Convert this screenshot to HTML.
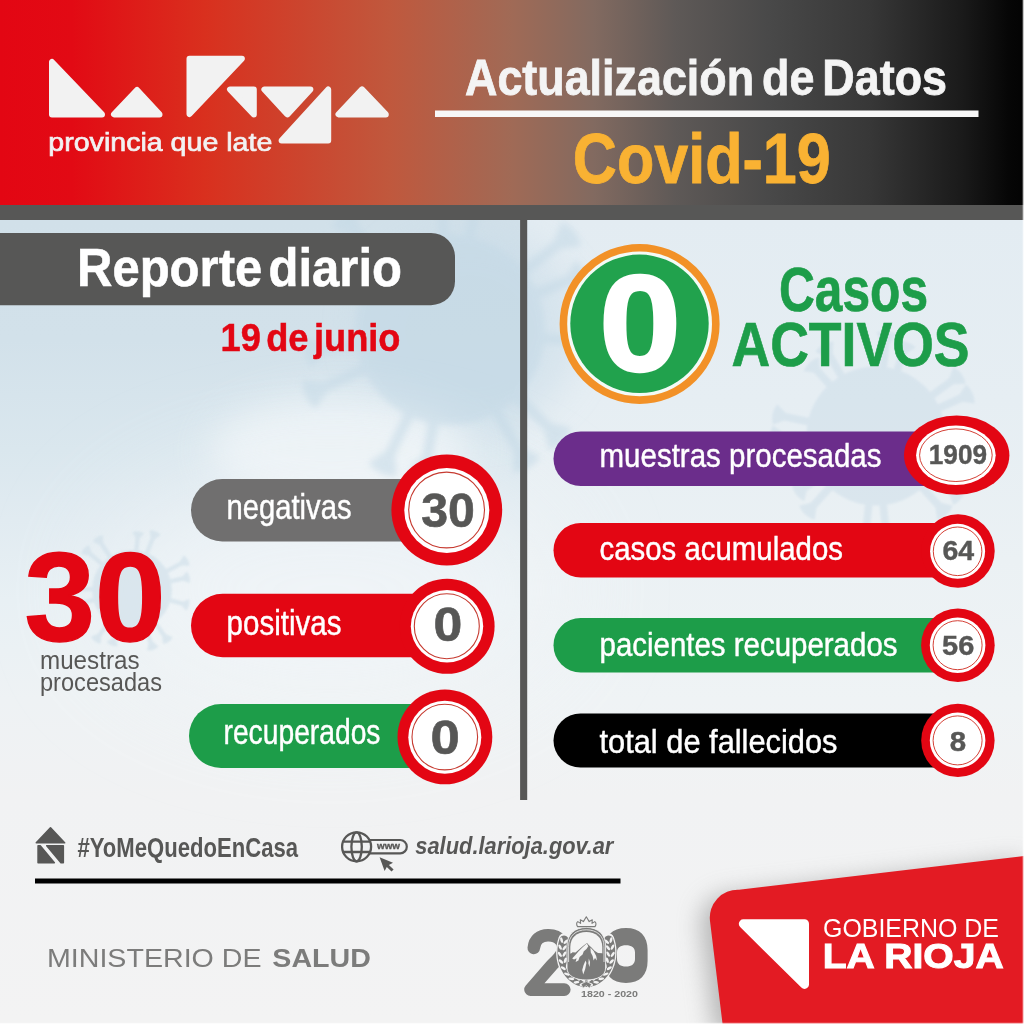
<!DOCTYPE html>
<html lang="es">
<head>
<meta charset="utf-8">
<title>Actualización de Datos Covid-19 - La Rioja</title>
<style>
html,body{margin:0;padding:0;background:#f3f3f3;}
body{width:1024px;height:1024px;overflow:hidden;position:relative;font-family:"Liberation Sans",sans-serif;}
svg{position:absolute;left:0;top:0;display:block;}
text{font-family:"Liberation Sans",sans-serif;}
.b{font-weight:bold;}
.w{fill:#f4f4f4;}
.g{fill:#575756;}
</style>
</head>
<body>
<svg width="1024" height="1024" viewBox="0 0 1024 1024">
<defs>
  <linearGradient id="hdr" x1="0" y1="0" x2="1" y2="0">
    <stop offset="0" stop-color="#e30613"/>
    <stop offset="0.07" stop-color="#e20a14"/>
    <stop offset="0.2" stop-color="#d9301e"/>
    <stop offset="0.38" stop-color="#c0583d"/>
    <stop offset="0.5" stop-color="#a06a56"/>
    <stop offset="0.58" stop-color="#826a60"/>
    <stop offset="0.66" stop-color="#5e5957"/>
    <stop offset="0.75" stop-color="#494949"/>
    <stop offset="0.85" stop-color="#373737"/>
    <stop offset="0.94" stop-color="#1a1a1a"/>
    <stop offset="0.985" stop-color="#060606"/>
    <stop offset="1" stop-color="#030303"/>
  </linearGradient>

  <linearGradient id="bg" x1="0" y1="0" x2="0" y2="1">
    <stop offset="0.2148" stop-color="#d1e0e9"/>
    <stop offset="0.3320" stop-color="#d2e1ea"/>
    <stop offset="0.4395" stop-color="#dae7ee"/>
    <stop offset="0.5078" stop-color="#e1ebf1"/>
    <stop offset="0.5859" stop-color="#e8f0f4"/>
    <stop offset="0.6836" stop-color="#eef2f4"/>
    <stop offset="0.7812" stop-color="#f1f2f3"/>
    <stop offset="1.0000" stop-color="#f3f3f3"/>
  </linearGradient>
  <linearGradient id="bgR" x1="0" y1="0" x2="0" y2="1">
    <stop offset="0.2148" stop-color="#e3ecf2"/>
    <stop offset="0.3906" stop-color="#e6eef3"/>
    <stop offset="0.5469" stop-color="#ebf1f4"/>
    <stop offset="0.6836" stop-color="#eff3f5"/>
    <stop offset="0.7812" stop-color="#f1f2f3"/>
    <stop offset="1.0000" stop-color="#f3f3f3"/>
  </linearGradient>
  <filter id="blur60" x="-50%" y="-50%" width="200%" height="200%"><feGaussianBlur stdDeviation="55"/></filter>
  <filter id="blur20" x="-50%" y="-50%" width="200%" height="200%"><feGaussianBlur stdDeviation="18"/></filter>
  <filter id="blur2" x="-30%" y="-30%" width="160%" height="160%"><feGaussianBlur stdDeviation="1.6"/></filter>
  <filter id="blur1" x="-30%" y="-30%" width="160%" height="160%"><feGaussianBlur stdDeviation="0.9"/></filter>
  <filter id="blur6" x="-30%" y="-30%" width="160%" height="160%"><feGaussianBlur stdDeviation="6"/></filter>
  <filter id="blur3" x="-30%" y="-30%" width="160%" height="160%"><feGaussianBlur stdDeviation="3"/></filter>
  <filter id="sh" x="-30%" y="-30%" width="160%" height="160%"><feGaussianBlur stdDeviation="12"/></filter>
</defs>

<!-- background -->
<rect x="0" y="0" width="1024" height="1024" fill="url(#bg)"/>
<rect x="523" y="0" width="501" height="1024" fill="url(#bgR)"/>
<g id="viruses">
<ellipse cx="470" cy="330" rx="110" ry="100" fill="#c9dce8" opacity="0.55" filter="url(#blur20)"/>
<ellipse cx="340" cy="450" rx="130" ry="55" fill="#f3f7f9" opacity="0.7" filter="url(#blur20)"/>
<ellipse cx="330" cy="590" rx="230" ry="120" fill="#f4f7f9" opacity="0.6" filter="url(#blur60)"/>
<g transform="translate(450 330)" fill="#c4d9e6" opacity="0.55" filter="url(#blur3)"><circle cx="0" cy="0" r="95"/><path transform="rotate(5.0)" d="M93 -5.2 L128.6 -5.2 L143.0 -15.7 Q150.8 0 143.0 15.7 L128.6 5.2 L93 5.2 Z"/><path transform="rotate(44.7)" d="M93 -5.2 L137.0 -5.2 L155.0 -15.7 Q162.8 0 155.0 15.7 L137.0 5.2 L93 5.2 Z"/><path transform="rotate(60.4)" d="M93 -5.2 L137.0 -5.2 L155.0 -15.7 Q162.8 0 155.0 15.7 L137.0 5.2 L93 5.2 Z"/><path transform="rotate(100.1)" d="M93 -5.2 L128.6 -5.2 L143.0 -15.7 Q150.8 0 143.0 15.7 L128.6 5.2 L93 5.2 Z"/><path transform="rotate(115.8)" d="M93 -5.2 L137.0 -5.2 L155.0 -15.7 Q162.8 0 155.0 15.7 L137.0 5.2 L93 5.2 Z"/><path transform="rotate(155.5)" d="M93 -5.2 L137.0 -5.2 L155.0 -15.7 Q162.8 0 155.0 15.7 L137.0 5.2 L93 5.2 Z"/><path transform="rotate(171.2)" d="M93 -5.2 L128.6 -5.2 L143.0 -15.7 Q150.8 0 143.0 15.7 L128.6 5.2 L93 5.2 Z"/><path transform="rotate(210.8)" d="M93 -5.2 L137.0 -5.2 L155.0 -15.7 Q162.8 0 155.0 15.7 L137.0 5.2 L93 5.2 Z"/><path transform="rotate(226.5)" d="M93 -5.2 L137.0 -5.2 L155.0 -15.7 Q162.8 0 155.0 15.7 L137.0 5.2 L93 5.2 Z"/><path transform="rotate(266.2)" d="M93 -5.2 L128.6 -5.2 L143.0 -15.7 Q150.8 0 143.0 15.7 L128.6 5.2 L93 5.2 Z"/><path transform="rotate(281.9)" d="M93 -5.2 L137.0 -5.2 L155.0 -15.7 Q162.8 0 155.0 15.7 L137.0 5.2 L93 5.2 Z"/><path transform="rotate(321.6)" d="M93 -5.2 L137.0 -5.2 L155.0 -15.7 Q162.8 0 155.0 15.7 L137.0 5.2 L93 5.2 Z"/><path transform="rotate(337.3)" d="M93 -5.2 L128.6 -5.2 L143.0 -15.7 Q150.8 0 143.0 15.7 L128.6 5.2 L93 5.2 Z"/></g>
<g transform="translate(876 436) scale(1.2)" fill="#c6d9e6" opacity="0.42" filter="url(#blur1)"><circle cx="0" cy="0" r="58"/><path transform="rotate(0.0)" d="M56 -3.2 L73.7 -3.2 L80.4 -8.7 Q84.8 0 80.4 8.7 L73.7 3.2 L56 3.2 Z"/><path transform="rotate(36.0)" d="M56 -3.2 L77.6 -3.2 L86.0 -8.7 Q90.3 0 86.0 8.7 L77.6 3.2 L56 3.2 Z"/><path transform="rotate(48.0)" d="M56 -3.2 L77.6 -3.2 L86.0 -8.7 Q90.3 0 86.0 8.7 L77.6 3.2 L56 3.2 Z"/><path transform="rotate(84.0)" d="M56 -3.2 L73.7 -3.2 L80.4 -8.7 Q84.8 0 80.4 8.7 L73.7 3.2 L56 3.2 Z"/><path transform="rotate(96.0)" d="M56 -3.2 L77.6 -3.2 L86.0 -8.7 Q90.3 0 86.0 8.7 L77.6 3.2 L56 3.2 Z"/><path transform="rotate(132.0)" d="M56 -3.2 L77.6 -3.2 L86.0 -8.7 Q90.3 0 86.0 8.7 L77.6 3.2 L56 3.2 Z"/><path transform="rotate(144.0)" d="M56 -3.2 L73.7 -3.2 L80.4 -8.7 Q84.8 0 80.4 8.7 L73.7 3.2 L56 3.2 Z"/><path transform="rotate(180.0)" d="M56 -3.2 L77.6 -3.2 L86.0 -8.7 Q90.3 0 86.0 8.7 L77.6 3.2 L56 3.2 Z"/><path transform="rotate(192.0)" d="M56 -3.2 L77.6 -3.2 L86.0 -8.7 Q90.3 0 86.0 8.7 L77.6 3.2 L56 3.2 Z"/><path transform="rotate(228.0)" d="M56 -3.2 L73.7 -3.2 L80.4 -8.7 Q84.8 0 80.4 8.7 L73.7 3.2 L56 3.2 Z"/><path transform="rotate(240.0)" d="M56 -3.2 L77.6 -3.2 L86.0 -8.7 Q90.3 0 86.0 8.7 L77.6 3.2 L56 3.2 Z"/><path transform="rotate(276.0)" d="M56 -3.2 L77.6 -3.2 L86.0 -8.7 Q90.3 0 86.0 8.7 L77.6 3.2 L56 3.2 Z"/><path transform="rotate(288.0)" d="M56 -3.2 L73.7 -3.2 L80.4 -8.7 Q84.8 0 80.4 8.7 L73.7 3.2 L56 3.2 Z"/><path transform="rotate(324.0)" d="M56 -3.2 L77.6 -3.2 L86.0 -8.7 Q90.3 0 86.0 8.7 L77.6 3.2 L56 3.2 Z"/><path transform="rotate(336.0)" d="M56 -3.2 L77.6 -3.2 L86.0 -8.7 Q90.3 0 86.0 8.7 L77.6 3.2 L56 3.2 Z"/></g>
<g transform="translate(132 590)" fill="#cfdfe9" opacity="0.6" filter="url(#blur1)"><circle cx="0" cy="0" r="40"/><path transform="rotate(15.0)" d="M38 -2.2 L52.3 -2.2 L57.6 -6.0 Q60.6 0 57.6 6.0 L52.3 2.2 L38 2.2 Z"/><path transform="rotate(54.7)" d="M38 -2.2 L55.4 -2.2 L62.0 -6.0 Q65.0 0 62.0 6.0 L55.4 2.2 L38 2.2 Z"/><path transform="rotate(70.4)" d="M38 -2.2 L55.4 -2.2 L62.0 -6.0 Q65.0 0 62.0 6.0 L55.4 2.2 L38 2.2 Z"/><path transform="rotate(110.1)" d="M38 -2.2 L52.3 -2.2 L57.6 -6.0 Q60.6 0 57.6 6.0 L52.3 2.2 L38 2.2 Z"/><path transform="rotate(125.8)" d="M38 -2.2 L55.4 -2.2 L62.0 -6.0 Q65.0 0 62.0 6.0 L55.4 2.2 L38 2.2 Z"/><path transform="rotate(165.5)" d="M38 -2.2 L55.4 -2.2 L62.0 -6.0 Q65.0 0 62.0 6.0 L55.4 2.2 L38 2.2 Z"/><path transform="rotate(181.2)" d="M38 -2.2 L52.3 -2.2 L57.6 -6.0 Q60.6 0 57.6 6.0 L52.3 2.2 L38 2.2 Z"/><path transform="rotate(220.8)" d="M38 -2.2 L55.4 -2.2 L62.0 -6.0 Q65.0 0 62.0 6.0 L55.4 2.2 L38 2.2 Z"/><path transform="rotate(236.5)" d="M38 -2.2 L55.4 -2.2 L62.0 -6.0 Q65.0 0 62.0 6.0 L55.4 2.2 L38 2.2 Z"/><path transform="rotate(276.2)" d="M38 -2.2 L52.3 -2.2 L57.6 -6.0 Q60.6 0 57.6 6.0 L52.3 2.2 L38 2.2 Z"/><path transform="rotate(291.9)" d="M38 -2.2 L55.4 -2.2 L62.0 -6.0 Q65.0 0 62.0 6.0 L55.4 2.2 L38 2.2 Z"/><path transform="rotate(331.6)" d="M38 -2.2 L55.4 -2.2 L62.0 -6.0 Q65.0 0 62.0 6.0 L55.4 2.2 L38 2.2 Z"/><path transform="rotate(347.3)" d="M38 -2.2 L52.3 -2.2 L57.6 -6.0 Q60.6 0 57.6 6.0 L52.3 2.2 L38 2.2 Z"/></g>
</g>

<!-- header -->
<rect x="0" y="0" width="1024" height="206" fill="url(#hdr)"/>
<rect x="0" y="205" width="1024" height="15" fill="#575756"/>
<rect x="520.1" y="219" width="7.1" height="581" fill="#575756"/>


<!-- logo La Rioja -->
<g id="logo" fill="#f2f2f2" stroke="#f2f2f2" stroke-width="6" stroke-linejoin="round">
  <path d="M52 62 L52 114.4 L102 114.4 Z"/>
  <path d="M137 90 L114 114.4 L159.5 114.4 Z"/>
  <path d="M189.5 58.7 L241.9 58.7 L189.5 114 Z"/>
  <path d="M230 89.4 L253.8 89.4 L253.8 114.4 Z"/>
  <path d="M264.4 89.4 L310.4 89.4 L287.4 114.4 Z"/>
  <path d="M328.2 89.4 L328.2 140.5 L281.6 140.5 Z"/>
  <path d="M362 89.4 L338.5 114.4 L385.8 114.4 Z"/>
</g>
<text x="48.3" y="150.5" font-size="26.5" textLength="224" lengthAdjust="spacingAndGlyphs" fill="#f2f2f2" stroke="#f2f2f2" stroke-width="0.7">provincia que late</text>

<!-- title -->
<text x="465" y="94.5" font-size="49.8" class="b" word-spacing="-5" textLength="482" stroke="#f4f4f4" stroke-width="0.8" lengthAdjust="spacingAndGlyphs" fill="#f4f4f4">Actualización de Datos</text>
<rect x="435" y="110.5" width="543.5" height="6.5" fill="#f7f7f7"/>
<text x="572.8" y="183.2" font-size="70.8" class="b" textLength="258" lengthAdjust="spacingAndGlyphs" fill="#f9b233" stroke="#f9b233" stroke-width="0.8">Covid-19</text>

<!-- Reporte diario -->
<path d="M0 232.9 H431 A24 24 0 0 1 455 256.9 V281.2 A24 24 0 0 1 431 305.2 H0 Z" fill="#575756"/>
<text x="77" y="285.6" font-size="53.7" class="b" word-spacing="-8" textLength="325" stroke="#fff" stroke-width="0.6" lengthAdjust="spacingAndGlyphs" fill="#ffffff">Reporte diario</text>
<text x="220.5" y="351" font-size="39" class="b" word-spacing="-5" textLength="180" lengthAdjust="spacingAndGlyphs" fill="#e30613" stroke="#e30613" stroke-width="0.5">19 de junio</text>

<!-- Casos activos -->
<circle cx="639.6" cy="323.9" r="76.2" fill="#f3faf6" stroke="#f29127" stroke-width="7.6"/>
<circle cx="639.5" cy="323.8" r="69.2" fill="#21a24d"/>
<text x="639.9" y="371.4" font-size="136.5" class="b" text-anchor="middle" textLength="82" stroke="#fff" stroke-width="2.4" lengthAdjust="spacingAndGlyphs" fill="#ffffff">0</text>
<text x="779" y="311" font-size="62.4" class="b" textLength="149" lengthAdjust="spacingAndGlyphs" fill="#1d9d49" stroke="#1d9d49" stroke-width="0.7">Casos</text>
<text x="731.5" y="366" font-size="62.4" class="b" textLength="238" lengthAdjust="spacingAndGlyphs" fill="#1d9d49" stroke="#1d9d49" stroke-width="0.7">ACTIVOS</text>

<!-- left pills -->
<rect x="191" y="479" width="260" height="62.5" rx="31.25" fill="#706f6f"/>
<rect x="191" y="593.8" width="260" height="63.4" rx="31.7" fill="#e30613"/>
<rect x="189" y="704" width="260" height="64" rx="32" fill="#1d9d49"/>
<g>
  <circle cx="446.8" cy="510" r="55.4" fill="#e30613"/>
  <circle cx="446.8" cy="510.4" r="42.5" fill="#ffffff"/>
  <circle cx="446.6" cy="510" r="37.9" fill="none" stroke="#c63a30" stroke-width="1.1"/>
  <text x="421.2" y="526.9" font-size="47.6" class="b g" textLength="53.7" lengthAdjust="spacingAndGlyphs" stroke="#575756" stroke-width="0.6">30</text>
  <circle cx="447.1" cy="626.25" r="47.5" fill="#e30613"/>
  <circle cx="447" cy="626.25" r="36.2" fill="#ffffff"/>
  <circle cx="446.8" cy="626.2" r="32.5" fill="none" stroke="#c63a30" stroke-width="1.1"/>
  <text x="433.4" y="641.2" font-size="47.6" class="b g" textLength="28.8" lengthAdjust="spacingAndGlyphs" stroke="#575756" stroke-width="0.6">0</text>
  <circle cx="444.9" cy="736.9" r="47.4" fill="#e30613"/>
  <circle cx="444.8" cy="737.2" r="36.5" fill="#ffffff"/>
  <circle cx="444.8" cy="737.1" r="32.8" fill="none" stroke="#c63a30" stroke-width="1.1"/>
  <text x="430.5" y="753.9" font-size="47.6" class="b g" textLength="29.3" lengthAdjust="spacingAndGlyphs" stroke="#575756" stroke-width="0.6">0</text>
</g>
<text x="226.5" y="519" font-size="35.4" textLength="125" stroke="#fff" stroke-width="0.45" lengthAdjust="spacingAndGlyphs" fill="#ffffff">negativas</text>
<text x="226.5" y="635" font-size="35.4" textLength="115" stroke="#fff" stroke-width="0.45" lengthAdjust="spacingAndGlyphs" fill="#ffffff">positivas</text>
<text x="223.5" y="744" font-size="35.4" textLength="157" stroke="#fff" stroke-width="0.45" lengthAdjust="spacingAndGlyphs" fill="#ffffff">recuperados</text>

<!-- big 30 -->
<text x="24.5" y="640.6" font-size="126" class="b" textLength="141" lengthAdjust="spacingAndGlyphs" fill="#e30613" stroke="#e30613" stroke-width="1.5">30</text>
<text x="40" y="669" font-size="26" class="g" textLength="99.5" lengthAdjust="spacingAndGlyphs">muestras</text>
<text x="40" y="690.8" font-size="26" class="g" textLength="122" lengthAdjust="spacingAndGlyphs">procesadas</text>

<!-- right pills -->
<rect x="553.5" y="431.5" width="420" height="54.5" rx="27.25" fill="#6b2d8b"/>
<rect x="553.5" y="523" width="420" height="54.5" rx="27.25" fill="#e30613"/>
<rect x="553.5" y="618" width="420" height="54.5" rx="27.25" fill="#1d9d49"/>
<rect x="553.5" y="713.5" width="420" height="54" rx="27" fill="#000000"/>
<g>
  <ellipse cx="956.7" cy="455.2" rx="52.7" ry="39.6" fill="#e30613"/>
  <ellipse cx="955.9" cy="455.2" rx="39.8" ry="29.8" fill="#ffffff"/>
  <ellipse cx="955.9" cy="455.2" rx="36.3" ry="26.3" fill="none" stroke="#cf2a1f" stroke-width="0.9"/>
  <text x="928.8" y="464" font-size="26.8" class="b g" textLength="58.3" lengthAdjust="spacingAndGlyphs" stroke="#575756" stroke-width="0.4">1909</text>
  <circle cx="958" cy="551" r="36.7" fill="#e30613"/>
  <circle cx="957.6" cy="551.3" r="27.5" fill="#ffffff"/>
  <circle cx="957.6" cy="551.3" r="24.3" fill="none" stroke="#cf2a1f" stroke-width="0.9"/>
  <text x="942.5" y="560" font-size="27" class="b g" textLength="31.7" lengthAdjust="spacingAndGlyphs" stroke="#575756" stroke-width="0.4">64</text>
  <circle cx="957.9" cy="645.2" r="36.8" fill="#e30613"/>
  <circle cx="957.6" cy="645.2" r="27.8" fill="#ffffff"/>
  <circle cx="957.6" cy="645.2" r="24.5" fill="none" stroke="#cf2a1f" stroke-width="0.9"/>
  <text x="942.1" y="655.3" font-size="27" class="b g" textLength="32.2" lengthAdjust="spacingAndGlyphs" stroke="#575756" stroke-width="0.4">56</text>
  <circle cx="957.9" cy="740.4" r="36.7" fill="#e30613"/>
  <circle cx="957.6" cy="740.4" r="27.8" fill="#ffffff"/>
  <circle cx="957.6" cy="740.4" r="24.5" fill="none" stroke="#cf2a1f" stroke-width="0.9"/>
  <text x="949.7" y="750.7" font-size="27" class="b g" textLength="16.4" lengthAdjust="spacingAndGlyphs" stroke="#575756" stroke-width="0.4">8</text>
</g>
<text x="599.5" y="467" font-size="34" textLength="282" stroke="#fff" stroke-width="0.45" lengthAdjust="spacingAndGlyphs" fill="#ffffff">muestras procesadas</text>
<text x="599.5" y="559.6" font-size="34" textLength="243.5" stroke="#fff" stroke-width="0.45" lengthAdjust="spacingAndGlyphs" fill="#ffffff">casos acumulados</text>
<text x="599.5" y="655.5" font-size="34" textLength="298" stroke="#fff" stroke-width="0.45" lengthAdjust="spacingAndGlyphs" fill="#ffffff">pacientes recuperados</text>
<text x="599.5" y="752.5" font-size="34" textLength="238" stroke="#fff" stroke-width="0.45" lengthAdjust="spacingAndGlyphs" fill="#ffffff">total de fallecidos</text>

<!-- footer row -->
<g id="house" fill="#575756" stroke="#575756" stroke-width="1.6" stroke-linejoin="round">
  <path d="M50.5 827.9 L64.6 842.8 L36.3 842.8 Z"/>
  <path d="M38.1 845.7 L40.2 845.7 L54.3 862.7 L38.1 862.7 Z"/>
  <path d="M46.8 845.7 L63.3 845.7 L63.3 862.7 L61 862.7 Z"/>
</g>
<text x="77.5" y="857" font-size="27.6" class="b g" textLength="220.5" lengthAdjust="spacingAndGlyphs">#YoMeQuedoEnCasa</text>
<g id="globe" fill="none" stroke="#575756" stroke-width="2.3">
  <rect x="360" y="840" width="46.8" height="13.3" rx="6.65" stroke-width="2.2"/>
  <circle cx="356.6" cy="846.8" r="14.5" fill="#f1f2f3"/>
  <ellipse cx="356.6" cy="846.8" rx="5.2" ry="14.5"/>
  <path d="M343.2 841.6 H370 M343.2 852 H370"/>
</g>
<text x="377" y="849.1" font-size="9.8" class="b g" stroke="#575756" stroke-width="0.35" textLength="23" lengthAdjust="spacingAndGlyphs">www</text>
<path d="M379.6 857.2 L393 862.8 L388.9 864.9 L393.6 869.6 L391.5 871.6 L386.8 866.9 L384.6 871 Z" fill="#575756"/>
<text x="415.3" y="853.8" font-size="24" class="b g" font-style="italic" textLength="198" lengthAdjust="spacingAndGlyphs">salud.larioja.gov.ar</text>
<rect x="35" y="878.5" width="585.5" height="5" fill="#000000"/>

<!-- ministerio -->
<text x="47" y="967" font-size="26.2" textLength="214.5" lengthAdjust="spacingAndGlyphs" fill="#7c7c7b">MINISTERIO DE</text>
<text x="272.3" y="967" font-size="26.2" class="b" textLength="98.6" lengthAdjust="spacingAndGlyphs" fill="#7c7c7b">SALUD</text>

<!-- 200 logo -->
<g id="bicent">
<path d="M533.8 948 C534.5 939.5 540 935.2 548 935.2 C560 935 566 944 562 953 C560 957.5 556 961 552 965 L530.5 989.6 L564.3 989.6" fill="none" stroke="#7b7b7a" stroke-width="12.6" stroke-linecap="round" stroke-linejoin="round"/>
<path fill-rule="evenodd" fill="#7b7b7a" d="M626 928 C640 928 647.6 936 647.6 950 V961 C647.6 975 640 982.9 626 982.9 C612 982.9 604.4 975 604.4 961 V950 C604.4 936 612 928 626 928 Z M626 945.2 C620.5 945.2 617 947.5 617 952.5 V959 C617 964 620.5 966.5 626 966.5 C631.5 966.5 635 964 635 959 V952.5 C635 947.5 631.5 945.2 626 945.2 Z"/>
<path d="M564.4 939.2 L563.5 942.0 L562.8 944.9 L562.3 947.9 L562.1 950.9 L562.2 954.0 L562.4 957.0 L563.0 960.0 L563.7 962.9 L564.7 965.6 L565.9 968.3 L567.3 970.8 L568.9 973.0 L570.7 975.1 L572.6 977.0 L574.7 978.6 L576.8 979.9 L579.1 980.9 L581.5 981.7 L583.9 982.1 L586.3 982.3 L588.7 982.1 L591.1 981.7 L593.5 980.9 L595.8 979.9 L597.9 978.6 L600.0 977.0 L601.9 975.1 L603.7 973.0 L605.3 970.8 L606.7 968.3 L607.9 965.6 L608.9 962.9 L609.6 960.0 L610.2 957.0 L610.4 954.0 L610.5 950.9 L610.3 947.9 L609.8 944.9 L609.1 942.0 L608.2 939.2" fill="none" stroke="#f3f3f3" stroke-width="12" stroke-linecap="round"/>
<path d="M564.0 940.2 L563.2 943.0 L562.6 945.9 L562.2 948.8 L562.1 951.8 L562.2 954.8 L562.5 957.7 L563.1 960.6 L563.9 963.4 L564.9 966.2 L566.1 968.7 L567.5 971.1 L569.1 973.4 L570.9 975.4 L572.8 977.1 L574.8 978.7 L577.0 980.0 L579.2 981.0 L581.6 981.7 L583.9 982.2 L586.3 982.3 L588.7 982.2 L591.0 981.7 L593.4 981.0 L595.6 980.0 L597.8 978.7 L599.8 977.1 L601.7 975.4 L603.5 973.4 L605.1 971.1 L606.5 968.7 L607.7 966.2 L608.7 963.4 L609.5 960.6 L610.1 957.7 L610.4 954.8 L610.5 951.8 L610.4 948.8 L610.0 945.9 L609.4 943.0 L608.6 940.2" fill="none" stroke="#7b7b7a" stroke-width="9.4" stroke-linecap="round"/>
<g fill="#f3f3f3"><ellipse cx="582.2" cy="984.2" rx="2.9" ry="1.3" transform="rotate(-201.8 582.2 984.2)"/><ellipse cx="582.9" cy="979.8" rx="2.9" ry="1.3" transform="rotate(-135.8 582.9 979.8)"/><ellipse cx="576.5" cy="982.3" rx="2.9" ry="1.3" transform="rotate(-186.4 576.5 982.3)"/><ellipse cx="578.1" cy="978.1" rx="2.9" ry="1.3" transform="rotate(-120.4 578.1 978.1)"/><ellipse cx="571.3" cy="978.8" rx="2.9" ry="1.3" transform="rotate(-172.2 571.3 978.8)"/><ellipse cx="573.8" cy="975.1" rx="2.9" ry="1.3" transform="rotate(-106.2 573.8 975.1)"/><ellipse cx="566.8" cy="974.1" rx="2.9" ry="1.3" transform="rotate(-159.3 566.8 974.1)"/><ellipse cx="570.1" cy="971.0" rx="2.9" ry="1.3" transform="rotate(-93.3 570.1 971.0)"/><ellipse cx="563.3" cy="968.2" rx="2.9" ry="1.3" transform="rotate(-147.6 563.3 968.2)"/><ellipse cx="567.2" cy="966.0" rx="2.9" ry="1.3" transform="rotate(-81.6 567.2 966.0)"/><ellipse cx="561.0" cy="961.5" rx="2.9" ry="1.3" transform="rotate(-136.7 561.0 961.5)"/><ellipse cx="565.3" cy="960.2" rx="2.9" ry="1.3" transform="rotate(-70.7 565.3 960.2)"/><ellipse cx="559.9" cy="954.4" rx="2.9" ry="1.3" transform="rotate(-126.4 559.9 954.4)"/><ellipse cx="564.4" cy="954.1" rx="2.9" ry="1.3" transform="rotate(-60.4 564.4 954.1)"/><ellipse cx="560.1" cy="947.1" rx="2.9" ry="1.3" transform="rotate(-116.1 560.1 947.1)"/><ellipse cx="564.5" cy="947.8" rx="2.9" ry="1.3" transform="rotate(-50.1 564.5 947.8)"/><ellipse cx="561.6" cy="940.1" rx="2.9" ry="1.3" transform="rotate(-105.6 561.6 940.1)"/><ellipse cx="565.8" cy="941.7" rx="2.9" ry="1.3" transform="rotate(-39.6 565.8 941.7)"/><ellipse cx="590.4" cy="984.2" rx="2.9" ry="1.3" transform="rotate(381.8 590.4 984.2)"/><ellipse cx="589.7" cy="979.8" rx="2.9" ry="1.3" transform="rotate(315.8 589.7 979.8)"/><ellipse cx="596.1" cy="982.3" rx="2.9" ry="1.3" transform="rotate(366.4 596.1 982.3)"/><ellipse cx="594.5" cy="978.1" rx="2.9" ry="1.3" transform="rotate(300.4 594.5 978.1)"/><ellipse cx="601.3" cy="978.8" rx="2.9" ry="1.3" transform="rotate(352.2 601.3 978.8)"/><ellipse cx="598.8" cy="975.1" rx="2.9" ry="1.3" transform="rotate(286.2 598.8 975.1)"/><ellipse cx="605.8" cy="974.1" rx="2.9" ry="1.3" transform="rotate(339.3 605.8 974.1)"/><ellipse cx="602.5" cy="971.0" rx="2.9" ry="1.3" transform="rotate(273.3 602.5 971.0)"/><ellipse cx="609.3" cy="968.2" rx="2.9" ry="1.3" transform="rotate(327.6 609.3 968.2)"/><ellipse cx="605.4" cy="966.0" rx="2.9" ry="1.3" transform="rotate(261.6 605.4 966.0)"/><ellipse cx="611.6" cy="961.5" rx="2.9" ry="1.3" transform="rotate(316.7 611.6 961.5)"/><ellipse cx="607.3" cy="960.2" rx="2.9" ry="1.3" transform="rotate(250.7 607.3 960.2)"/><ellipse cx="612.7" cy="954.4" rx="2.9" ry="1.3" transform="rotate(306.4 612.7 954.4)"/><ellipse cx="608.2" cy="954.1" rx="2.9" ry="1.3" transform="rotate(240.4 608.2 954.1)"/><ellipse cx="612.5" cy="947.1" rx="2.9" ry="1.3" transform="rotate(296.1 612.5 947.1)"/><ellipse cx="608.1" cy="947.8" rx="2.9" ry="1.3" transform="rotate(230.1 608.1 947.8)"/><ellipse cx="611.0" cy="940.1" rx="2.9" ry="1.3" transform="rotate(285.6 611.0 940.1)"/><ellipse cx="606.8" cy="941.7" rx="2.9" ry="1.3" transform="rotate(219.6 606.8 941.7)"/></g>
<path d="M581 984 L586.3 981.5 L591.6 984 L589.6 988.2 L586.3 985.6 L583 988.2 Z" fill="#7b7b7a" stroke="#f3f3f3" stroke-width="0.7"/>
<path d="M567 968 V946 C567 934 575 927.4 586.3 927.4 C597.6 927.4 605.6 934 605.6 946 V968 C605.6 976 597 980 586.3 980 C575.6 980 567 976 567 968 Z" fill="#7b7b7a" stroke="#f3f3f3" stroke-width="0.9"/>
<path d="M568.6 962 V946.5 C568.6 935.8 575.8 929.8 586.3 929.8 C596.8 929.8 604 935.8 604 946.5 V962" fill="none" stroke="#f3f3f3" stroke-width="0.8"/>
<path d="M570.3 953.6 V947 C570.3 937.6 576.8 932 586.3 932 C595.8 932 602.3 937.6 602.3 947 V953.6 Z" fill="#f3f3f3"/>
<path d="M570.3 954.5 L572.5 952.2 L575.5 952.6 L579 949.5 L583 946 L587 943 L589 945.2 L591.5 947.6 L594.5 950.8 L598 953 L602.3 953.4 L602.3 956 L570.3 956 Z" fill="#7b7b7a"/>
<path d="M586.8 943.4 L588.3 946.2 L586.5 949 L583.8 951.2 L582.6 954.6 L579.6 957 L578.4 960.4 L575.6 962 L576.6 958.2 L574 959.6 L572.2 958.4 L575.2 955.2 L578.4 951.6 L582.4 947.6 Z M590.4 947.6 L593.6 951 L596.2 956 L597 960.6 L595 958 L593.6 960.6 L592.6 956 L590.8 952.6 Z M583.6 965 L585.6 960.5 L586.4 963 L585.2 969 L583.2 974.5 L582.2 970 Z M588.8 958.5 L590 962 L589.6 967 L588.4 963.5 Z" fill="#f3f3f3"/>
<path d="M577.6 926.6 C576.2 924.8 576.4 922.6 577.8 921.6 L580.6 923.4 L580.3 919.8 L583.4 921.6 L586.3 916.8 L589.2 921.6 L592.3 919.8 L592 923.4 L594.8 921.6 C596.2 922.6 596.4 924.8 595 926.6 Z" fill="#f3f3f3" stroke="#7b7b7a" stroke-width="1.1" stroke-linejoin="round"/>
<text x="581" y="996.9" font-size="9.4" class="b" textLength="57" lengthAdjust="spacingAndGlyphs" fill="#7b7b7a">1820 - 2020</text>
</g>

<!-- gobierno badge -->
<g id="badge">
  <path d="M737 890 L1030 855.5 L1030 1030 L723 1030 L709.5 920 A27 27 0 0 1 737 890 Z" fill="#8e8e8e" opacity="0.62" filter="url(#sh)" transform="translate(-8,5)"/>
  <path d="M739 889.7 L1030 855.3 L1030 1030 L723.3 1030 L710 921 A28 28 0 0 1 739 889.7 Z" fill="#e31b23"/>
  <path d="M743.3 923.8 L804.5 923.8 L804.5 984.4 Z" fill="#ffffff" stroke="#ffffff" stroke-width="9" stroke-linejoin="round"/>
  <text x="823" y="937.2" font-size="25.1" textLength="176" lengthAdjust="spacingAndGlyphs" fill="#ffffff">GOBIERNO DE</text>
  <text x="822.7" y="968.2" font-size="35.6" class="b" textLength="181" lengthAdjust="spacingAndGlyphs" fill="#ffffff" stroke="#ffffff" stroke-width="1">LA RIOJA</text>
</g>

<!-- edge strips -->
<rect x="1022.7" y="0" width="1.3" height="1024" fill="#ffffff" opacity="0.78"/>
<rect x="0" y="1022.8" width="1024" height="1.2" fill="#ffffff" opacity="0.7"/>
</svg>
</body>
</html>
